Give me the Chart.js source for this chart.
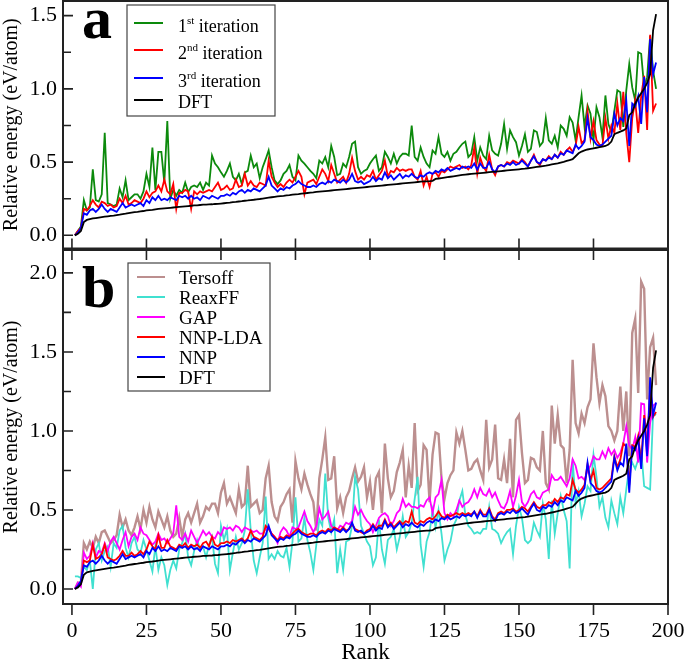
<!DOCTYPE html>
<html>
<head>
<meta charset="utf-8">
<script src="https://cdn.jsdelivr.net/npm/chart.js@4.4.1/dist/chart.umd.min.js"></script>
<style>
  html, body { margin: 0; padding: 0; background: #fff; }
  #wrap { position: relative; width: 685px; height: 664px; }
  canvas { position: absolute; left: 0; top: 0; }
</style>
</head>
<body>
<div id="wrap">
  <canvas id="panelA" width="685" height="664"></canvas>
  <canvas id="panelB" width="685" height="664"></canvas>
</div>
<script>
// relative energies (eV/atom), structures sorted by DFT energy
const dft = [0.000,0.010,0.030,0.090,0.105,0.110,0.115,0.118,0.121,0.124,
  0.127,0.130,0.133,0.135,0.138,0.141,0.145,0.148,0.152,0.155,
  0.158,0.160,0.163,0.166,0.170,0.172,0.174,0.177,0.180,0.182,
  0.184,0.186,0.188,0.190,0.192,0.194,0.196,0.198,0.200,0.202,
  0.204,0.205,0.207,0.209,0.210,0.211,0.212,0.214,0.215,0.217,
  0.219,0.221,0.223,0.226,0.228,0.231,0.233,0.236,0.238,0.241,
  0.243,0.246,0.248,0.251,0.254,0.257,0.260,0.263,0.266,0.268,
  0.270,0.273,0.275,0.278,0.280,0.282,0.285,0.287,0.289,0.291,
  0.293,0.296,0.298,0.300,0.302,0.304,0.306,0.308,0.310,0.312,
  0.314,0.316,0.318,0.320,0.322,0.324,0.326,0.328,0.330,0.332,
  0.334,0.336,0.338,0.340,0.342,0.344,0.346,0.348,0.350,0.352,
  0.354,0.356,0.358,0.360,0.362,0.364,0.366,0.368,0.369,0.370,
  0.372,0.385,0.388,0.391,0.394,0.397,0.400,0.403,0.406,0.409,
  0.412,0.415,0.417,0.419,0.421,0.423,0.425,0.427,0.429,0.431,
  0.433,0.435,0.437,0.439,0.441,0.443,0.445,0.447,0.449,0.451,
  0.453,0.455,0.458,0.461,0.464,0.467,0.470,0.473,0.476,0.480,
  0.484,0.488,0.492,0.497,0.502,0.508,0.514,0.520,0.540,0.560,
  0.572,0.580,0.586,0.590,0.594,0.598,0.602,0.606,0.610,0.620,
  0.640,0.690,0.700,0.708,0.716,0.730,0.820,0.840,0.900,0.940,
  0.970,1.000,1.040,1.100,1.400,1.510];

const iter1 = [0.00,0.03,0.06,0.24,0.17,0.19,0.45,0.24,0.23,0.28,
  0.70,0.22,0.21,0.20,0.21,0.32,0.26,0.375,0.24,0.26,
  0.28,0.28,0.25,0.30,0.42,0.33,0.60,0.31,0.57,0.57,
  0.36,0.78,0.25,0.31,0.27,0.31,0.29,0.36,0.295,0.33,
  0.34,0.33,0.36,0.31,0.36,0.34,0.545,0.49,0.465,0.43,
  0.40,0.44,0.49,0.40,0.375,0.42,0.35,0.43,0.44,0.545,
  0.465,0.49,0.39,0.465,0.52,0.58,0.465,0.375,0.35,0.375,
  0.42,0.44,0.48,0.40,0.375,0.545,0.51,0.49,0.465,0.44,
  0.42,0.39,0.51,0.49,0.535,0.465,0.61,0.535,0.41,0.42,
  0.49,0.465,0.535,0.625,0.64,0.465,0.42,0.44,0.45,0.49,
  0.52,0.545,0.44,0.465,0.57,0.535,0.49,0.557,0.49,0.535,
  0.557,0.557,0.545,0.75,0.535,0.51,0.60,0.535,0.49,0.465,
  0.58,0.557,0.67,0.557,0.535,0.57,0.51,0.557,0.57,0.60,
  0.625,0.64,0.535,0.557,0.67,0.51,0.60,0.545,0.52,0.68,
  0.58,0.557,0.545,0.625,0.76,0.59,0.716,0.67,0.636,0.545,
  0.61,0.69,0.57,0.59,0.716,0.705,0.61,0.636,0.80,0.648,
  0.625,0.68,0.60,0.75,0.727,0.68,0.807,0.77,0.648,0.807,
  0.955,0.74,0.886,0.83,0.648,0.875,0.807,0.67,0.955,0.76,
  0.705,0.85,0.99,0.977,0.74,0.99,1.17,1.01,0.92,1.25,
  1.24,1.01,1.08,1.36,1.125,1.00];

const iter2 = [0.00,0.03,0.05,0.18,0.17,0.20,0.24,0.21,0.19,0.23,
  0.22,0.20,0.21,0.19,0.20,0.25,0.22,0.27,0.21,0.22,
  0.24,0.23,0.22,0.25,0.30,0.26,0.29,0.30,0.34,0.30,
  0.38,0.30,0.28,0.35,0.18,0.29,0.29,0.31,0.30,0.18,
  0.30,0.28,0.30,0.29,0.30,0.31,0.30,0.33,0.36,0.31,
  0.32,0.34,0.31,0.32,0.38,0.33,0.34,0.42,0.34,0.37,
  0.34,0.33,0.36,0.35,0.34,0.51,0.40,0.36,0.33,0.35,
  0.33,0.36,0.38,0.36,0.40,0.44,0.40,0.28,0.36,0.37,
  0.38,0.35,0.40,0.45,0.42,0.37,0.48,0.42,0.36,0.38,
  0.40,0.36,0.42,0.53,0.44,0.38,0.40,0.38,0.41,0.40,
  0.44,0.38,0.41,0.44,0.51,0.40,0.44,0.43,0.46,0.44,
  0.45,0.44,0.45,0.45,0.40,0.38,0.44,0.34,0.40,0.33,
  0.42,0.43,0.40,0.44,0.43,0.45,0.47,0.46,0.47,0.48,
  0.46,0.47,0.45,0.48,0.60,0.42,0.53,0.47,0.44,0.55,
  0.45,0.41,0.47,0.48,0.47,0.50,0.49,0.51,0.50,0.49,
  0.52,0.50,0.47,0.51,0.55,0.50,0.48,0.52,0.51,0.54,
  0.52,0.55,0.53,0.57,0.55,0.58,0.60,0.57,0.61,0.74,
  0.63,0.65,0.85,0.66,0.78,0.65,0.62,0.61,0.80,0.66,
  0.75,0.70,0.90,0.72,0.98,0.70,0.50,0.80,0.92,0.70,
  0.95,1.09,0.72,1.37,0.85,0.90];

// 3rd iteration, used as the final NNP in panel b
const nnp = [0.00,0.02,0.05,0.15,0.14,0.17,0.18,0.16,0.18,0.21,
  0.18,0.16,0.18,0.17,0.16,0.19,0.22,0.19,0.20,0.21,
  0.20,0.21,0.22,0.20,0.24,0.22,0.26,0.24,0.27,0.24,
  0.25,0.24,0.26,0.25,0.24,0.27,0.26,0.27,0.25,0.27,
  0.25,0.26,0.24,0.27,0.26,0.25,0.27,0.26,0.25,0.27,
  0.27,0.28,0.27,0.29,0.28,0.30,0.31,0.29,0.31,0.30,
  0.32,0.31,0.30,0.32,0.34,0.40,0.34,0.32,0.30,0.32,
  0.31,0.33,0.32,0.34,0.35,0.37,0.35,0.34,0.33,0.33,
  0.34,0.33,0.35,0.36,0.35,0.37,0.36,0.38,0.37,0.36,
  0.38,0.36,0.38,0.42,0.37,0.36,0.37,0.35,0.36,0.37,
  0.40,0.37,0.39,0.38,0.43,0.39,0.41,0.38,0.40,0.42,
  0.39,0.41,0.40,0.42,0.40,0.39,0.41,0.40,0.42,0.43,
  0.42,0.44,0.43,0.45,0.44,0.46,0.44,0.45,0.46,0.45,
  0.47,0.46,0.47,0.46,0.49,0.45,0.49,0.46,0.46,0.50,
  0.45,0.43,0.47,0.48,0.47,0.49,0.48,0.50,0.48,0.49,
  0.51,0.49,0.47,0.51,0.54,0.50,0.49,0.52,0.51,0.53,
  0.52,0.55,0.53,0.56,0.55,0.58,0.57,0.56,0.62,0.59,
  0.61,0.64,0.80,0.67,0.65,0.62,0.61,0.62,0.64,0.66,
  0.68,0.83,0.75,0.80,0.78,0.92,0.61,0.90,0.88,0.95,
  0.76,1.08,0.84,1.34,1.10,1.18];

const nnpLda = [0.00,0.02,0.04,0.18,0.17,0.18,0.28,0.19,0.20,0.22,
  0.28,0.20,0.19,0.18,0.19,0.21,0.24,0.21,0.21,0.23,
  0.21,0.22,0.24,0.22,0.25,0.30,0.27,0.25,0.34,0.26,
  0.26,0.31,0.27,0.26,0.25,0.28,0.27,0.29,0.26,0.28,
  0.27,0.28,0.26,0.29,0.30,0.27,0.33,0.28,0.27,0.29,
  0.29,0.30,0.29,0.31,0.30,0.31,0.32,0.30,0.32,0.37,
  0.33,0.32,0.31,0.33,0.40,0.38,0.35,0.33,0.31,0.33,
  0.32,0.34,0.33,0.35,0.37,0.38,0.36,0.35,0.34,0.35,
  0.35,0.34,0.36,0.37,0.36,0.38,0.37,0.39,0.38,0.37,
  0.39,0.37,0.38,0.41,0.38,0.37,0.36,0.35,0.37,0.38,
  0.41,0.38,0.40,0.40,0.44,0.40,0.42,0.39,0.41,0.43,
  0.41,0.43,0.42,0.49,0.42,0.41,0.43,0.42,0.44,0.45,
  0.44,0.46,0.49,0.46,0.45,0.47,0.46,0.47,0.48,0.47,
  0.48,0.47,0.48,0.47,0.49,0.46,0.50,0.47,0.47,0.51,
  0.46,0.44,0.48,0.49,0.48,0.50,0.50,0.51,0.49,0.50,
  0.52,0.51,0.49,0.52,0.55,0.52,0.51,0.53,0.53,0.55,
  0.54,0.57,0.55,0.58,0.57,0.60,0.59,0.69,0.63,0.61,
  0.63,0.66,0.79,0.69,0.75,0.64,0.63,0.64,0.66,0.68,
  0.70,0.84,0.77,0.82,0.92,0.90,0.66,0.91,0.90,0.97,
  0.80,1.10,0.88,1.28,1.09,1.12];

const tersoff = [0.00,0.04,0.04,0.29,0.25,0.30,0.26,0.33,0.29,0.36,
  0.37,0.33,0.29,0.31,0.34,0.47,0.39,0.44,0.37,0.34,
  0.39,0.46,0.38,0.50,0.42,0.52,0.44,0.39,0.49,0.44,
  0.39,0.46,0.37,0.33,0.35,0.45,0.33,0.44,0.48,0.42,
  0.48,0.54,0.42,0.46,0.52,0.50,0.54,0.54,0.48,0.61,
  0.67,0.54,0.58,0.53,0.48,0.63,0.52,0.54,0.78,0.52,
  0.54,0.56,0.48,0.50,0.70,0.78,0.55,0.46,0.43,0.52,
  0.55,0.60,0.63,0.42,0.81,0.70,0.63,0.73,0.66,0.60,
  0.55,0.37,0.70,0.82,0.96,0.69,0.70,0.84,0.51,0.58,
  0.48,0.58,0.62,0.70,0.77,0.68,0.71,0.77,0.58,0.68,
  0.50,0.70,0.74,0.48,0.92,0.70,0.58,0.62,0.74,0.80,
  0.88,0.58,0.78,0.64,1.05,0.62,0.66,0.91,0.88,0.55,
  0.85,0.99,0.98,0.70,0.57,0.67,0.72,0.75,0.99,0.92,
  1.00,0.88,0.75,0.76,0.80,0.82,0.75,0.69,1.07,0.77,
  0.82,1.04,0.70,0.69,0.82,0.67,0.95,0.58,1.07,1.10,
  0.86,0.67,0.69,0.83,0.82,0.77,0.75,1.00,0.67,0.63,
  1.16,0.92,1.10,0.91,0.89,0.67,0.88,1.45,1.05,0.985,
  1.11,1.05,1.15,1.20,1.555,1.34,1.175,1.29,1.22,1.03,
  1.00,0.94,1.00,1.28,1.00,1.25,0.84,1.62,1.71,1.24,
  1.945,1.90,1.20,1.53,1.59,1.29];

const reaxff = [0.08,0.08,0.07,0.14,0.12,0.18,0.00,0.25,0.29,0.18,
  0.24,0.27,0.14,0.29,0.26,0.37,0.40,0.26,0.20,0.29,
  0.33,0.25,0.23,0.31,0.25,0.18,0.11,0.27,0.12,0.20,
  0.15,0.025,0.12,0.18,0.13,0.25,0.29,0.35,0.20,0.15,
  0.24,0.31,0.25,0.27,0.20,0.28,0.33,0.16,0.10,0.40,
  0.31,0.38,0.12,0.23,0.33,0.25,0.29,0.37,0.63,0.37,
  0.18,0.10,0.20,0.29,0.585,0.19,0.22,0.19,0.24,0.21,
  0.20,0.26,0.14,0.30,0.58,0.30,0.32,0.45,0.31,0.23,
  0.12,0.28,0.44,0.40,0.73,0.45,0.36,0.44,0.10,0.25,
  0.12,0.30,0.31,0.40,0.71,0.63,0.40,0.35,0.30,0.27,
  0.15,0.20,0.44,0.25,0.16,0.31,0.33,0.38,0.25,0.33,
  0.46,0.33,0.36,0.42,0.57,0.71,0.28,0.14,0.30,0.36,
  0.50,0.39,0.50,0.35,0.18,0.25,0.30,0.40,0.44,0.56,
  0.62,0.47,0.40,0.38,0.35,0.36,0.35,0.38,0.38,0.52,
  0.38,0.37,0.35,0.29,0.33,0.36,0.38,0.22,0.40,0.52,
  0.45,0.31,0.29,0.31,0.42,0.37,0.33,0.54,0.44,0.19,
  0.56,0.35,0.48,0.59,0.50,0.43,0.13,0.82,0.54,0.62,
  0.46,0.54,0.65,0.62,0.85,0.71,0.52,0.58,0.45,0.39,
  0.56,0.48,0.41,0.58,0.48,0.63,0.77,0.80,0.76,0.82,
  0.88,0.65,0.64,0.63,1.11,1.10];

const gap = [0.00,0.04,0.015,0.23,0.19,0.21,0.29,0.20,0.24,0.23,
  0.29,0.24,0.30,0.33,0.29,0.25,0.31,0.36,0.27,0.33,
  0.35,0.31,0.39,0.35,0.34,0.31,0.28,0.30,0.35,0.31,
  0.32,0.29,0.32,0.35,0.53,0.33,0.31,0.35,0.30,0.37,
  0.33,0.29,0.33,0.37,0.34,0.36,0.33,0.32,0.36,0.34,
  0.39,0.38,0.39,0.37,0.40,0.39,0.36,0.39,0.38,0.37,
  0.36,0.37,0.35,0.35,0.38,0.39,0.35,0.33,0.29,0.36,
  0.39,0.37,0.33,0.39,0.38,0.39,0.44,0.49,0.43,0.40,
  0.36,0.40,0.51,0.44,0.46,0.49,0.40,0.38,0.37,0.40,
  0.39,0.42,0.41,0.43,0.52,0.47,0.50,0.46,0.43,0.41,
  0.36,0.40,0.45,0.47,0.48,0.46,0.40,0.43,0.48,0.50,
  0.57,0.52,0.54,0.52,0.52,0.51,0.53,0.52,0.56,0.58,
  0.48,0.58,0.60,0.69,0.48,0.44,0.48,0.46,0.50,0.56,
  0.52,0.54,0.55,0.58,0.63,0.58,0.64,0.60,0.59,0.63,
  0.58,0.61,0.56,0.52,0.51,0.55,0.62,0.52,0.59,0.69,
  0.55,0.52,0.55,0.60,0.62,0.58,0.57,0.61,0.62,0.63,
  0.72,0.69,0.69,0.71,0.68,0.65,0.70,0.82,0.78,0.70,
  0.71,0.69,0.75,0.78,0.84,0.82,0.82,0.87,0.83,0.89,
  0.85,0.88,0.83,0.86,0.92,1.03,0.91,0.88,0.96,0.80,
  1.175,1.17,0.80,1.05,1.16,1.175];

// rank of each structure (1..N)
const ranks = dft.map((_, i) => i + 1);
const xTicks = [0, 25, 50, 75, 100, 125, 150, 175, 200];

const SERIF = "'Liberation Serif', 'Times New Roman', serif";

// frame, inward ticks, panel letter and boxed legend (with superscripts)
const panelDecor = {
  id: 'panelDecor',
  afterDatasetsDraw(chart, args, opts) {
    const { ctx, chartArea: a, scales: { x, y } } = chart;
    ctx.save();

    ctx.strokeStyle = '#222';
    ctx.lineWidth = 1.6;
    ctx.beginPath();
    y.ticks.forEach(t => {
      const py = y.getPixelForValue(t.value);
      const major = Math.abs(t.value * 2 - Math.round(t.value * 2)) < 1e-6;
      ctx.moveTo(a.left, py);
      ctx.lineTo(a.left + (major ? 10 : 8), py);
    });
    xTicks.forEach(v => {
      const px = x.getPixelForValue(v);
      if (opts.ticksBottomIn) { ctx.moveTo(px, a.bottom); ctx.lineTo(px, a.bottom - 10); }
      if (opts.ticksTopIn) { ctx.moveTo(px, a.top); ctx.lineTo(px, a.top + 10); }
      if (opts.ticksBottomOut) { ctx.moveTo(px, a.bottom); ctx.lineTo(px, a.bottom + 11); }
    });
    ctx.stroke();

    ctx.lineWidth = 2;
    ctx.strokeRect(a.left, a.top, a.right - a.left, a.bottom - a.top);

    // panel letter
    ctx.fillStyle = '#000';
    ctx.font = 'bold 60px ' + SERIF;
    ctx.textAlign = 'left';
    ctx.textBaseline = 'alphabetic';
    ctx.fillText(opts.letter, opts.letterX, opts.letterY);

    // legend box
    const lg = opts.legend;
    ctx.fillStyle = '#fff';
    ctx.fillRect(lg.x, lg.y, lg.w, lg.h);
    ctx.strokeStyle = '#444';
    ctx.lineWidth = 1.2;
    ctx.strokeRect(lg.x, lg.y, lg.w, lg.h);

    chart.data.datasets.forEach((ds, i) => {
      const ly = lg.lineY[i];
      ctx.strokeStyle = ds.borderColor;
      ctx.lineWidth = 2;
      ctx.beginPath();
      ctx.moveTo(lg.lineX0, ly);
      ctx.lineTo(lg.lineX1, ly);
      ctx.stroke();

      const base = lg.textY[i];
      let tx = lg.textX;
      ctx.fillStyle = '#000';
      const m = ds.label.match(/^(\d+)(st|nd|rd|th)(.*)$/);
      if (m) {
        ctx.font = lg.size + 'px ' + SERIF;
        ctx.fillText(m[1], tx, base);
        tx += ctx.measureText(m[1]).width;
        ctx.font = Math.round(lg.size * 0.62) + 'px ' + SERIF;
        ctx.fillText(m[2], tx, base - lg.size * 0.45);
        tx += ctx.measureText(m[2]).width;
        ctx.font = lg.size + 'px ' + SERIF;
        ctx.fillText(m[3], tx, base);
      } else {
        ctx.font = lg.size + 'px ' + SERIF;
        ctx.fillText(ds.label, tx, base);
      }
    });
    ctx.restore();
  }
};

function yTickLabel(v) {
  return Math.abs(v * 2 - Math.round(v * 2)) < 1e-6 ? v.toFixed(1) : '';
}

function yScale(min, max) {
  return {
    min: min, max: max,
    ticks: { stepSize: 0.25, includeBounds: false, padding: 6, color: '#000',
             font: { family: SERIF, size: 22 }, callback: yTickLabel },
    grid: { display: false, drawTicks: false },
    border: { display: false },
    title: { display: true, text: 'Relative energy (eV/atom)', color: '#000',
             font: { family: SERIF, size: 20 }, padding: 0 },
    afterFit: s => { s.width = 63; s.paddingTop = 0; s.paddingBottom = 0; }
  };
}

function line(label, data, color, order, width) {
  return { label: label, data: data, borderColor: color, backgroundColor: color,
           borderWidth: width || 1.8, pointRadius: 0, tension: 0, fill: false, order: order };
}

new Chart(document.getElementById('panelA'), {
  type: 'line',
  data: {
    labels: ranks,
    datasets: [
      line('1st iteration', iter1, '#0c8a0c', 3),
      line('2nd iteration', iter2, '#ff0000', 2),
      line('3rd iteration', nnp, '#0000ff', 1),
      line('DFT', dft, '#000000', 0)
    ]
  },
  options: {
    responsive: false,
    animation: false,
    layout: { padding: { top: 1, right: 17, bottom: 415.5, left: 0 } },
    plugins: {
      legend: { display: false },
      tooltip: { enabled: false },
      panelDecor: {
        letter: 'a', letterX: 82, letterY: 38,
        ticksBottomIn: true,
        legend: { x: 127, y: 5, w: 148, h: 111, lineX0: 134, lineX1: 163, textX: 178,
                  size: 18, lineY: [23, 50, 78, 100], textY: [32, 59, 87, 108] }
      }
    },
    scales: {
      x: {
        type: 'linear', min: -3, max: 200,
        ticks: { display: false, stepSize: 25, includeBounds: false },
        grid: { display: false, drawTicks: false },
        border: { display: false },
        afterFit: s => { s.height = 0; s.paddingLeft = 0; s.paddingRight = 0; }
      },
      y: yScale(-0.09, 1.6)
    }
  },
  plugins: [panelDecor]
});

new Chart(document.getElementById('panelB'), {
  type: 'line',
  data: {
    labels: ranks,
    datasets: [
      line('Tersoff', tersoff, '#bc8f8f', 5, 2.4),
      line('ReaxFF', reaxff, '#40e0d0', 4),
      line('GAP', gap, '#ff00ff', 3),
      line('NNP-LDA', nnpLda, '#ff0000', 2),
      line('NNP', nnp, '#0000ff', 1),
      line('DFT', dft, '#000000', 0)
    ]
  },
  options: {
    responsive: false,
    animation: false,
    layout: { padding: { top: 250, right: 17, bottom: 0, left: 0 } },
    plugins: {
      legend: { display: false },
      tooltip: { enabled: false },
      panelDecor: {
        letter: 'b', letterX: 82, letterY: 307,
        ticksTopIn: true, ticksBottomOut: true,
        legend: { x: 128, y: 263, w: 142, h: 128, lineX0: 137, lineX1: 165, textX: 179,
                  size: 19, lineY: [277, 297, 317, 337, 357, 377],
                  textY: [284, 304, 324, 344, 364, 384] }
      }
    },
    scales: {
      x: {
        type: 'linear', min: -3, max: 200,
        ticks: { stepSize: 25, includeBounds: false, padding: 14, color: '#000',
                 maxRotation: 0, font: { family: SERIF, size: 22 } },
        grid: { display: false, drawTicks: false },
        border: { display: false },
        title: { display: true, text: 'Rank', color: '#000',
                 font: { family: SERIF, size: 23, lineHeight: 1 }, padding: 0 },
        afterFit: s => { s.height = 60; s.paddingLeft = 0; s.paddingRight = 0; }
      },
      y: yScale(-0.095, 2.145)
    }
  },
  plugins: [panelDecor]
});
</script>
</body>
</html>
